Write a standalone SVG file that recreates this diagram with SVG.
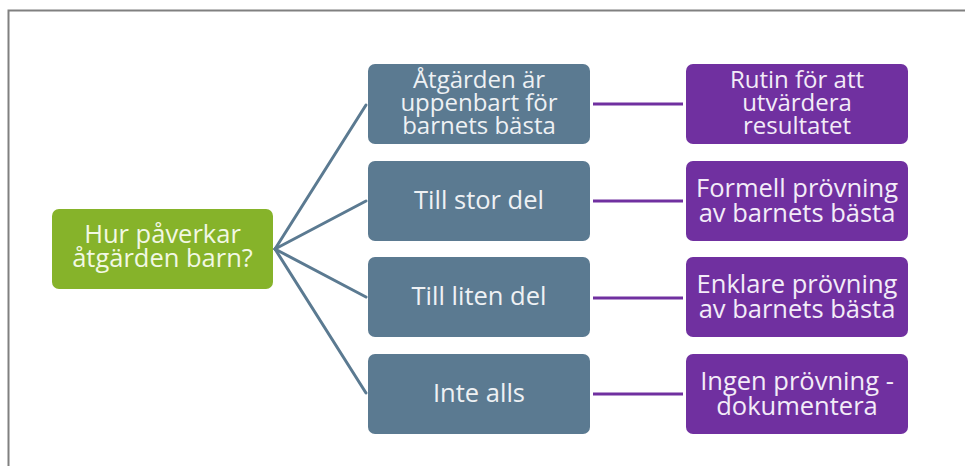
<svg xmlns="http://www.w3.org/2000/svg" width="965" height="466" viewBox="0 0 965 466">
<style>
.t{font-family:"Open Sans","Noto Sans","DejaVu Sans",sans-serif;font-size:25.5px;text-anchor:middle}
.s{font-size:24px}
.g{fill:#86b32a}
.b{fill:#5b7a91}
.p{fill:#7030a0}
.gt{fill:#f2f8e4}
.bt{fill:#eef1f4}
.pt{fill:#f3ecf8}
.cb{stroke:#5b7a91;stroke-width:3;fill:none;stroke-linecap:round}
.cp{stroke:#7030a0;stroke-width:3;fill:none}
</style>
<rect width="965" height="466" fill="#ffffff"/>
<path d="M8.5 466 V10.5 H965" fill="none" stroke="#808080" stroke-width="2"/>
<g id="connectors">
<line class="cb" x1="275" y1="249" x2="366" y2="105"/>
<line class="cb" x1="275" y1="249" x2="366" y2="201"/>
<line class="cb" x1="275" y1="249" x2="366" y2="297"/>
<line class="cb" x1="275" y1="249" x2="366" y2="393"/>
<line class="cp" x1="593" y1="104" x2="683" y2="104"/>
<line class="cp" x1="593" y1="201" x2="683" y2="201"/>
<line class="cp" x1="593" y1="298" x2="683" y2="298"/>
<line class="cp" x1="593" y1="394" x2="683" y2="394"/>
</g>
<g id="root">
<rect class="g" x="52" y="209" width="221" height="80" rx="7"/>
<text class="t gt" x="162.5" y="243">Hur påverkar</text>
<text class="t gt" x="162.5" y="267">åtgärden barn?</text>
</g>
<g id="b1">
<rect class="b" x="368" y="64" width="222" height="80" rx="7"/>
<text class="t s bt" x="479" y="88">Åtgärden är</text>
<text class="t s bt" x="479" y="111">uppenbart för</text>
<text class="t s bt" x="479" y="134">barnets bästa</text>
</g>
<g id="b2">
<rect class="b" x="368" y="161" width="222" height="80" rx="7"/>
<text class="t bt" x="479" y="209">Till stor del</text>
</g>
<g id="b3">
<rect class="b" x="368" y="257" width="222" height="80" rx="7"/>
<text class="t bt" x="479" y="305">Till liten del</text>
</g>
<g id="b4">
<rect class="b" x="368" y="354" width="222" height="80" rx="7"/>
<text class="t bt" x="479" y="402">Inte alls</text>
</g>
<g id="p1">
<rect class="p" x="686" y="64" width="222" height="80" rx="7"/>
<text class="t s pt" x="797" y="88">Rutin för att</text>
<text class="t s pt" x="797" y="111">utvärdera</text>
<text class="t s pt" x="797" y="134">resultatet</text>
</g>
<g id="p2">
<rect class="p" x="686" y="161" width="222" height="80" rx="7"/>
<text class="t pt" x="797" y="197">Formell prövning</text>
<text class="t pt" x="797" y="222">av barnets bästa</text>
</g>
<g id="p3">
<rect class="p" x="686" y="257" width="222" height="80" rx="7"/>
<text class="t pt" x="797" y="293">Enklare prövning</text>
<text class="t pt" x="797" y="318">av barnets bästa</text>
</g>
<g id="p4">
<rect class="p" x="686" y="354" width="222" height="80" rx="7"/>
<text class="t pt" x="797" y="390">Ingen prövning -</text>
<text class="t pt" x="797" y="415">dokumentera</text>
</g>
</svg>
